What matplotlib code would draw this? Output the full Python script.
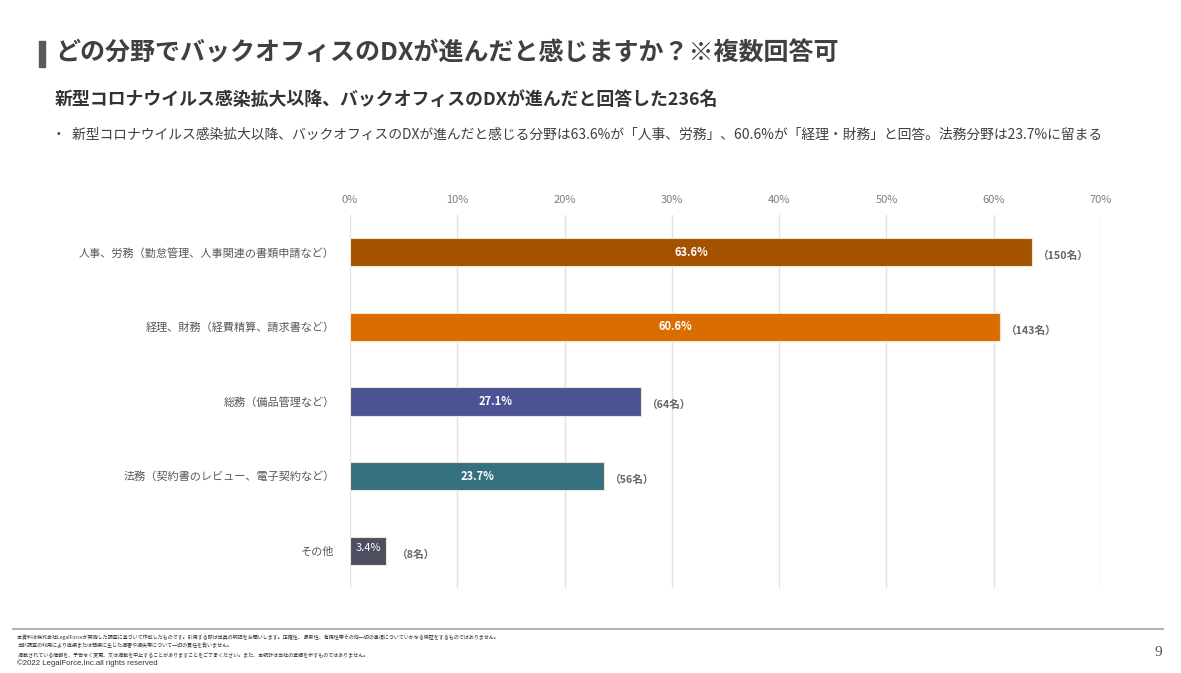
import matplotlib
matplotlib.use("Agg")
import matplotlib.pyplot as plt
from matplotlib.patches import Rectangle
from matplotlib.lines import Line2D

plt.rcParams['font.family'] = ['Noto Sans CJK JP', 'DejaVu Sans']

# ---- data ----
categories = [
    "人事、労務（勤怠管理、人事関連の書類申請など）",
    "経理、財務（経費精算、請求書など）",
    "総務（備品管理など）",
    "法務（契約書のレビュー、電子契約など）",
    "その他",
]
percents = [63.6, 60.6, 27.1, 23.7, 3.4]
counts = [150, 143, 64, 56, 8]
xticks = [0, 10, 20, 30, 40, 50, 60, 70]
bar_colors = ["#A35200", "#DA6D00", "#4B5394", "#35707F", "#4B4F60"]

title = "どの分野でバックオフィスのDXが進んだと感じますか？※複数回答可"
subtitle = "新型コロナウイルス感染拡大以降、バックオフィスのDXが進んだと回答した236名"
bullet = "・  新型コロナウイルス感染拡大以降、バックオフィスのDXが進んだと感じる分野は63.6%が「人事、労務」、60.6%が「経理・財務」と回答。法務分野は23.7%に留まる"
footer_lines = [
    "本資料は株式会社LegalForceが実施した調査に基づいて作成したものです。引用する際は出典の明記をお願いします。正確性、 最新性、有用性等その他一切の事項についていかなる保証をするものではありません。",
    "当該調査の利用により直接または間接に生じた損害や損失等について一切の責任を負いません。",
    " 掲載されている情報を、予告なく変更、又は掲載を中止することがありますことをご了承ください。また、本統計は当社の業績を示すものではありません。",
]
copyright_text = "©2022 LegalForce,Inc.all rights reserved"
page_no = "9"

W, H = 1181, 673
fig = plt.figure(figsize=(W / 100, H / 100), dpi=100)
fig.patch.set_facecolor("white")

def fx(px):
    return px / W

def fy(py):
    return 1 - py / H

# axes
left, right, top, bottom = 350, 1101, 215, 588
ax = fig.add_axes([fx(left), fy(bottom), fx(right - left), (bottom - top) / H])
ypos = list(range(len(categories)))
ax.barh(ypos, percents, height=0.38, color=bar_colors, edgecolor="#f3e3d0",
        linewidth=0.8, zorder=3)
ax.set_xlim(0, 70)
ax.set_ylim(4.5, -0.5)
ax.set_xticks(xticks)
ax.set_xticklabels([f"{t}%" for t in xticks], color="#7f7f7f", fontsize=8)
ax.xaxis.tick_top()
ax.tick_params(axis="x", length=0, pad=7)
ax.set_yticks(ypos)
ax.set_yticklabels(categories, color="#595959", fontsize=8)
ax.tick_params(axis="y", length=0, pad=11)
ax.grid(axis="x", color="#e2e2e2", linewidth=1.0, zorder=0)
for s in ax.spines.values():
    s.set_visible(False)

for i, (p, c) in enumerate(zip(percents, counts)):
    if p > 10:
        ax.text(p / 2, i, f"{p}%", ha="center", va="center", color="white",
                fontsize=8, fontweight="bold", zorder=4)
    else:
        ax.text(p / 2, i - 0.03, f"{p}%", ha="center", va="center", color="white",
                fontsize=8, zorder=4)
    off = 0.55 if p > 10 else 1.0
    ax.text(p + off, i + 0.05, f"（{c}名）", ha="left", va="center", color="#666666",
            fontsize=7.7, fontweight="bold")

# header
fig.patches.append(Rectangle((fx(39), fy(67)), fx(6), 26 / H, transform=fig.transFigure,
                             color="#595959", zorder=5))
fig.text(fx(55), fy(54), title, fontsize=18.0, fontweight="bold", color="#404040",
         ha="left", va="center")
fig.text(fx(55), fy(100), subtitle, fontsize=12.9, fontweight="bold", color="#333333",
         ha="left", va="center")
fig.text(fx(52), fy(135), bullet, fontsize=9.95, color="#404040", ha="left", va="center")

# footer
fig.lines.append(Line2D([fx(13), fx(1163)], [fy(629), fy(629)], transform=fig.transFigure,
                        color="#b5b5b5", linewidth=1.5))
for k, line in enumerate(footer_lines):
    fig.text(fx(17), fy(637 + 9 * k), line, fontsize=3.65, color="#333333",
             ha="left", va="center")
fig.text(fx(17), fy(663), copyright_text, fontsize=5.6, color="#333333",
         family=["Liberation Sans", "DejaVu Sans"], ha="left", va="center")
fig.text(fx(1162), fy(653), page_no, fontsize=11, color="#555555",
         family=["Liberation Serif", "DejaVu Serif"], ha="right", va="center")

fig.savefig("out.png", dpi=100, facecolor="white")
